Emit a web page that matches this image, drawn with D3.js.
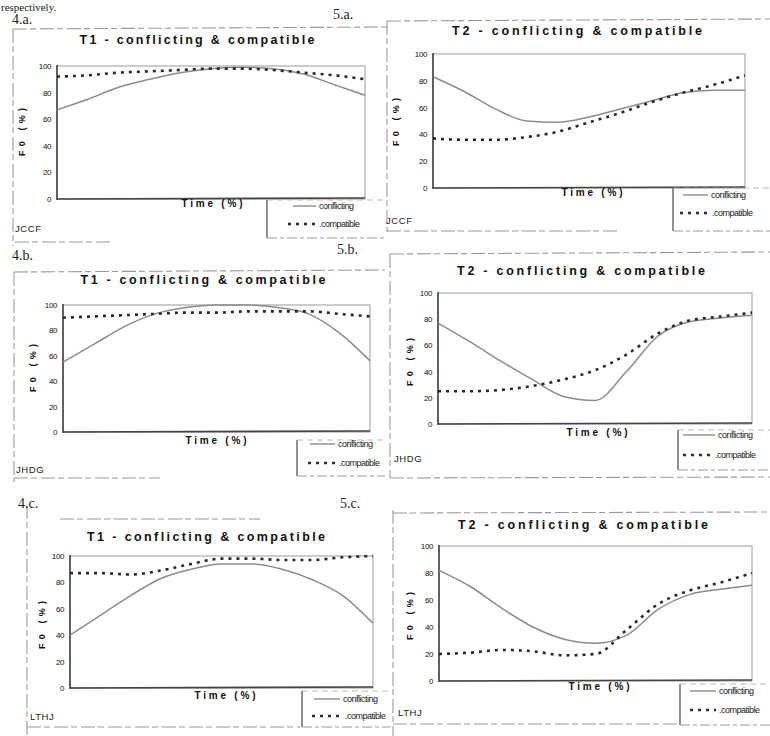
<!DOCTYPE html>
<html>
<head>
<meta charset="utf-8">
<script src="https://cdn.jsdelivr.net/npm/d3@7"></script>
<style>
  html, body { margin: 0; padding: 0; background: #fff; }
  svg { display: block; }
</style>
</head>
<body>
<div id="holder"></div>
<script>
// values, time in % steps of 10
const timePct = [0, 10, 20, 30, 40, 50, 60, 70, 80, 90, 100];
const yTicks = [0, 20, 40, 60, 80, 100];
const seriesNames = ['conflicting', '.compatible'];
const titles = ['T1 - conflicting & compatible', 'T2 - conflicting & compatible'];
const speakers = ['JCCF', 'JHDG', 'LTHJ'];
const panelLabels = ['4.a.', '5.a.', '4.b.', '5.b.', '4.c.', '5.c.'];

const jccfT1Conflicting = [67, 75, 84, 90, 95, 98, 99, 98, 94, 86, 78];
const jccfT1Compatible  = [92, 93, 95, 96, 97, 98, 98, 97, 95, 93, 90];
const jccfT2Conflicting = [83, 72, 59, 50, 49, 53, 59, 65, 71, 73, 73];
const jccfT2Compatible  = [37, 36, 36, 38, 42, 49, 56, 64, 71, 77, 84];
const jhdgT1Conflicting = [55, 69, 83, 93, 98, 100, 100, 98, 93, 78, 56];
const jhdgT1Compatible  = [90, 91, 92, 93, 94, 94, 95, 95, 95, 93, 91];
const jhdgT2Conflicting = [77, 63, 48, 34, 21, 18, 40, 67, 78, 81, 83];
const jhdgT2Compatible  = [25, 25, 26, 29, 34, 41, 53, 69, 79, 82, 85];
const lthjT1Conflicting = [40, 55, 70, 83, 90, 94, 94, 90, 82, 70, 49];
const lthjT1Compatible  = [87, 87, 86, 89, 94, 98, 98, 97, 97, 99, 100];
const lthjT2Conflicting = [82, 70, 54, 40, 31, 28, 34, 53, 64, 68, 71];
const lthjT2Compatible  = [20, 21, 23, 22, 19, 20, 38, 57, 67, 73, 80];

const w = 770;
const h = 736;

const panels = [
  { lab: 0, labXY: [12, 24], t: 0, spk: 0, data: [jccfT1Conflicting, jccfT1Compatible],
    p: { l: 57, t: 66, r: 365, b: 199 }, title: [197, 44, 235], time: [212, 207], yl: [22, 132],
    leg: { x: 267, y: 200, r: 385, b: 238 }, legY: [206, 224], legX: [[293, 316], [288, 316]], spkXY: [15, 232],
    frame: [[13, 29, 388, 27], [13, 29, 13, 246], [15, 242, 110, 242]] },
  { lab: 1, labXY: [333, 19], t: 1, spk: 0, data: [jccfT2Conflicting, jccfT2Compatible],
    p: { l: 433, t: 54, r: 745, b: 188 }, title: [577, 35, 250], time: [592, 196], yl: [396, 122],
    leg: { x: 673, y: 188, r: 770, b: 231 }, legY: [195, 213], legX: [[683, 708], [680, 709]], spkXY: [386, 224],
    frame: [[387, 21, 770, 19], [387, 21, 387, 232], [387, 231, 620, 231]] },
  { lab: 2, labXY: [12, 260], t: 0, spk: 1, data: [jhdgT1Conflicting, jhdgT1Compatible],
    p: { l: 63, t: 305, r: 370, b: 432 }, title: [203, 284, 245], time: [216, 444], yl: [33, 368],
    leg: { x: 297, y: 440, r: 385, b: 476 }, legY: [444, 463], legX: [[310, 335], [308, 336]], spkXY: [16, 473],
    frame: [[14, 272, 385, 270], [14, 272, 14, 482], [14, 478, 160, 478]] },
  { lab: 3, labXY: [337, 254], t: 1, spk: 1, data: [jhdgT2Conflicting, jhdgT2Compatible],
    p: { l: 438, t: 293, r: 752, b: 424 }, title: [581, 275, 248], time: [597, 436], yl: [410, 362],
    leg: { x: 678, y: 430, r: 770, b: 470 }, legY: [435, 455], legX: [[683, 715], [683, 712]], spkXY: [394, 462],
    frame: [[390, 254, 770, 252], [390, 254, 390, 478], [390, 478, 770, 477]] },
  { lab: 4, labXY: [18, 508], t: 0, spk: 2, data: [lthjT1Conflicting, lthjT1Compatible],
    p: { l: 70, t: 556, r: 373, b: 688 }, title: [206, 541, 238], time: [225, 699], yl: [42, 625],
    leg: { x: 302, y: 691, r: 390, b: 727 }, legY: [699, 716], legX: [[314, 340], [312, 342]], spkXY: [30, 720],
    frame: [[60, 519, 260, 519], [27, 505, 27, 736], [27, 727, 300, 727]] },
  { lab: 5, labXY: [340, 508], t: 1, spk: 2, data: [lthjT2Conflicting, lthjT2Compatible],
    p: { l: 439, t: 546, r: 752, b: 681 }, title: [583, 529, 250], time: [599, 690], yl: [410, 616],
    leg: { x: 680, y: 684, r: 770, b: 725 }, legY: [691, 710], legX: [[690, 716], [690, 716]], spkXY: [398, 716],
    frame: [[393, 513, 770, 512], [393, 510, 393, 736], [393, 724, 680, 724]] }
];

const svg = d3.select('#holder')
  .append('svg')
  .attr('width', w)
  .attr('height', h)
  .style('font-family', 'Arial, "Liberation Sans", sans-serif');

svg.append('rect').attr('width', w).attr('height', h).attr('fill', '#fff');

// text line carried over from the page above
svg.append('text')
  .attr('x', 1).attr('y', 10.5)
  .style('font-family', '"Liberation Serif", "DejaVu Serif", serif')
  .style('font-size', '11px')
  .attr('fill', '#222')
  .text('respectively.');

panels.forEach((d) => {
  const g = svg.append('g');
  const p = d.p;

  // faint scanned frame around each figure
  g.selectAll('line.frame')
    .data(d.frame)
    .enter()
    .append('line')
    .attr('class', 'frame')
    .attr('x1', f => f[0]).attr('y1', f => f[1])
    .attr('x2', f => f[2]).attr('y2', f => f[3])
    .attr('stroke', '#9a9a9a')
    .attr('stroke-width', 1.1)
    .attr('stroke-dasharray', '14,3,6,4');

  g.append('text')
    .attr('x', d.labXY[0]).attr('y', d.labXY[1])
    .style('font-family', '"Liberation Serif", "DejaVu Serif", serif')
    .style('font-size', '14px')
    .attr('fill', '#222')
    .text(panelLabels[d.lab]);

  const xScale = d3.scaleLinear().domain([0, 100]).range([p.l, p.r]);
  const yScale = d3.scaleLinear().domain([0, 100]).range([p.b, p.t]);

  // plot box: light top/right, dark left/bottom
  g.append('rect')
    .attr('x', p.l).attr('y', p.t)
    .attr('width', p.r - p.l).attr('height', p.b - p.t)
    .attr('fill', 'none')
    .attr('stroke', '#9a9a9a')
    .attr('stroke-width', 1);

  g.append('line')
    .attr('x1', p.l).attr('y1', p.t - 1).attr('x2', p.l).attr('y2', p.b + 1)
    .attr('stroke', '#444').attr('stroke-width', 1.6);
  g.append('line')
    .attr('x1', p.l).attr('y1', p.b).attr('x2', p.r).attr('y2', p.b - 1)
    .attr('stroke', '#444').attr('stroke-width', 1.6);

  const yAxis = d3.axisLeft(yScale).tickValues(yTicks).tickSize(0).tickPadding(6);
  const ax = g.append('g')
    .attr('transform', 'translate(' + p.l + ',0)')
    .call(yAxis);
  ax.select('.domain').remove();
  ax.selectAll('text')
    .style('font-size', '8px')
    .style('font-family', 'Arial, "Liberation Sans", sans-serif')
    .style('letter-spacing', '-0.4px')
    .attr('fill', '#111');

  const line = d3.line()
    .x((v, i) => xScale(timePct[i]))
    .y(v => yScale(v))
    .curve(d3.curveMonotoneX);

  g.append('path')
    .datum(d.data[0])
    .attr('d', line)
    .attr('fill', 'none')
    .attr('stroke', '#8c8c8c')
    .attr('stroke-width', 1.5);

  g.append('path')
    .datum(d.data[1])
    .attr('d', line)
    .attr('fill', 'none')
    .attr('stroke', '#2a2a2a')
    .attr('stroke-width', 2.6)
    .attr('stroke-dasharray', '3,5');

  g.append('text')
    .attr('x', d.title[0]).attr('y', d.title[1])
    .attr('text-anchor', 'middle')
    .attr('textLength', d.title[2])
    .attr('lengthAdjust', 'spacing')
    .style('font-size', '12.5px')
    .style('font-weight', 'bold')
    .attr('fill', '#111')
    .text(titles[d.t]);

  g.append('text')
    .attr('x', d.time[0]).attr('y', d.time[1])
    .attr('text-anchor', 'middle')
    .attr('textLength', 61)
    .attr('lengthAdjust', 'spacing')
    .style('font-size', '10px')
    .style('font-weight', 'bold')
    .attr('fill', '#111')
    .text('Time (%)');

  g.append('text')
    .attr('transform', 'translate(' + d.yl[0] + ',' + d.yl[1] + ') rotate(-90)')
    .attr('text-anchor', 'middle')
    .attr('dy', '0.35em')
    .attr('textLength', 48)
    .attr('lengthAdjust', 'spacing')
    .style('font-size', '9px')
    .style('font-weight', 'bold')
    .attr('fill', '#111')
    .text('F0 (%)');

  g.append('text')
    .attr('x', d.spkXY[0]).attr('y', d.spkXY[1])
    .style('font-size', '9.5px')
    .style('letter-spacing', '0.6px')
    .attr('fill', '#222')
    .text(speakers[d.spk]);

  // legend box
  const lg = d.leg;
  g.append('line')
    .attr('x1', lg.x).attr('y1', lg.y).attr('x2', lg.x).attr('y2', lg.b)
    .attr('stroke', '#555').attr('stroke-width', 1.3);
  g.append('line')
    .attr('x1', lg.x).attr('y1', lg.b).attr('x2', lg.r).attr('y2', lg.b)
    .attr('stroke', '#999').attr('stroke-width', 1)
    .attr('stroke-dasharray', '10,3,4,3');
  g.append('line')
    .attr('x1', lg.x).attr('y1', lg.y).attr('x2', lg.r).attr('y2', lg.y)
    .attr('stroke', '#aaa').attr('stroke-width', 0.8)
    .attr('stroke-dasharray', '6,4');

  g.append('line')
    .attr('x1', d.legX[0][0]).attr('y1', d.legY[0]).attr('x2', d.legX[0][1]).attr('y2', d.legY[0])
    .attr('stroke', '#8c8c8c').attr('stroke-width', 1.4);
  g.append('line')
    .attr('x1', d.legX[1][0]).attr('y1', d.legY[1]).attr('x2', d.legX[1][1]).attr('y2', d.legY[1])
    .attr('stroke', '#2a2a2a').attr('stroke-width', 2.4)
    .attr('stroke-dasharray', '3,5');

  seriesNames.forEach((name, i) => {
    g.append('text')
      .attr('x', d.legX[i][1] + 3).attr('y', d.legY[i])
      .attr('dy', '0.35em')
      .style('font-size', '9px')
      .style('letter-spacing', '-0.5px')
      .attr('fill', '#1a1a1a')
      .text(name);
  });
});
</script>
</body>
</html>
